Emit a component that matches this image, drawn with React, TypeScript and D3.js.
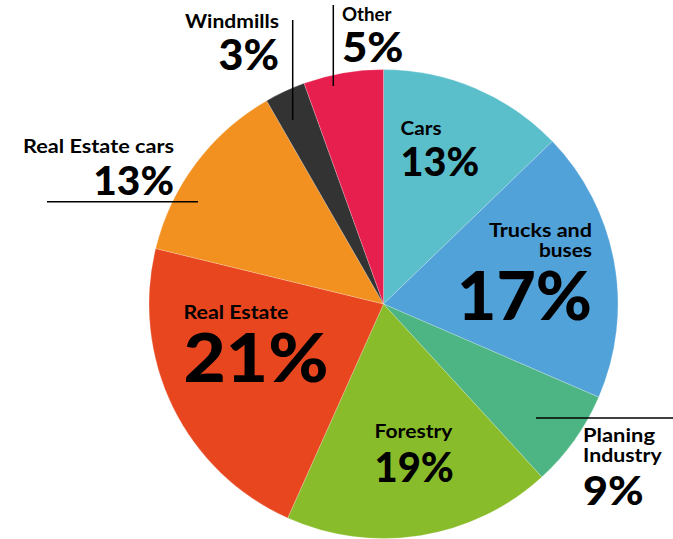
import React from "react";
import * as d3 from "d3";

const categories = ["Cars", "Trucks and buses", "Planing Industry", "Forestry", "Real Estate", "Real Estate cars", "Windmills", "Other"];
const shares = [12.8, 18.7, 6.7, 18.5, 22.1, 12.9, 2.8, 5.5];
const percentLabels = ["13%", "17%", "9%", "19%", "21%", "13%", "3%", "5%"];
const nameLines = [["Cars"], ["Trucks and", "buses"], ["Planing", "Industry"], ["Forestry"], ["Real Estate"], ["Real Estate cars"], ["Windmills"], ["Other"]];
const colors = ["#5bbfcb", "#52a2da", "#4db584", "#89bc2a", "#e8461f", "#f39120", "#333333", "#e71f4e"];

// layout: x anchor, first name baseline, percent baseline, percent font size, anchor, line gap, text widths
const labelLayout = [
  { x: 400.5, y: 135, py: 176, ps: 40, anchor: "start", gap: 20, nw: [41], pw: 78.6 },
  { x: 592, y: 236.7, py: 320, ps: 66, anchor: "end", gap: 20.6, nw: [103, 53], pw: 135 },
  { x: 583, y: 441.7, py: 505, ps: 40, anchor: "start", gap: 20, nw: [72, 78.7], pw: 60.6 },
  { x: 374.5, y: 438.3, py: 481.7, ps: 41, anchor: "start", gap: 20, nw: [78], pw: 79.4 },
  { x: 183.5, y: 319.3, py: 381.7, ps: 67, anchor: "start", gap: 20, nw: [105], pw: 145 },
  { x: 174, y: 153.3, py: 195, ps: 40, anchor: "end", gap: 20, nw: [151], pw: 80.7 },
  { x: 279, y: 28, py: 70, ps: 42, anchor: "end", gap: 20, nw: [94], pw: 60.5 },
  { x: 342, y: 21, py: 62, ps: 41, anchor: "start", gap: 20, nw: [49.5], pw: 61.5 },
];

const leaders = [
  { x1: 333.3, y1: 5, x2: 333.3, y2: 86 },
  { x1: 292.7, y1: 20, x2: 292.7, y2: 120 },
  { x1: 47, y1: 201.7, x2: 198, y2: 201.7 },
  { x1: 536, y1: 418, x2: 673, y2: 418 },
];

const W = 673;
const H = 539;
const cx = 383.5;
const cy = 304;
const R = 234.5;

const FONT = "Lato, 'DejaVu Sans', sans-serif";

export default function App() {
  const pie = d3.pie<number>().sort(null).value((d) => d)(shares);
  const arc = d3.arc<d3.PieArcDatum<number>>().innerRadius(0).outerRadius(R);
  return (
    <svg width={W} height={H} style={{ position: "absolute", left: 0, top: 0, background: "#fff" }}>
      <g transform={`translate(${cx},${cy})`}>
        {pie.map((p, i) => (
          <path key={categories[i]} d={arc(p) || ""} fill={colors[i]} stroke="#ffffff" strokeOpacity={0.35} strokeWidth={0.6} />
        ))}
      </g>
      {leaders.map((l, i) => (
        <line key={i} x1={l.x1} y1={l.y1} x2={l.x2} y2={l.y2} stroke="#000" strokeWidth={1.5} />
      ))}
      {labelLayout.map((L, i) => (
        <g key={categories[i]} fontFamily={FONT} fill="#000">
          {nameLines[i].map((t, j) => (
            <text
              key={j}
              x={L.x}
              y={L.y + j * L.gap}
              textAnchor={L.anchor as any}
              fontSize={18}
              fontWeight={700}
              textLength={L.nw[j]}
              lengthAdjust="spacingAndGlyphs"
            >
              {t}
            </text>
          ))}
          <text
            x={L.x}
            y={L.py}
            textAnchor={L.anchor as any}
            fontSize={L.ps}
            fontWeight={900}
            textLength={L.pw}
            lengthAdjust="spacingAndGlyphs"
          >
            {percentLabels[i]}
          </text>
        </g>
      ))}
    </svg>
  );
}
